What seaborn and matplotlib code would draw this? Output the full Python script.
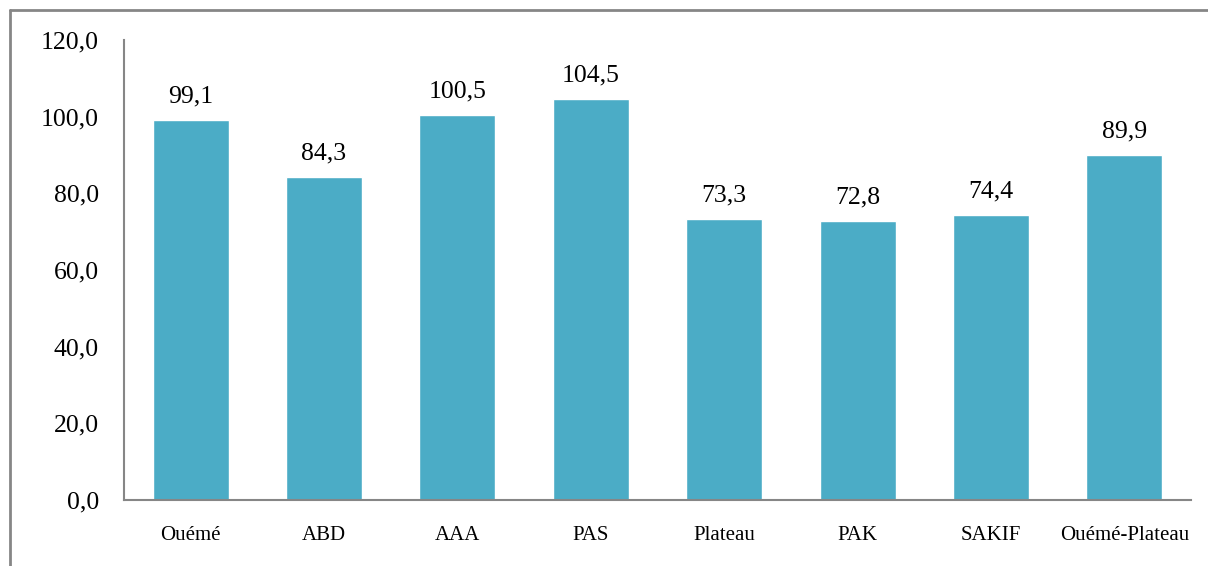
import matplotlib
matplotlib.use("Agg")
import matplotlib.pyplot as plt
import seaborn as sns
from matplotlib.lines import Line2D

categories = ["Ouémé", "ABD", "AAA", "PAS", "Plateau", "PAK", "SAKIF", "Ouémé-Plateau"]
values = [99.1, 84.3, 100.5, 104.5, 73.3, 72.8, 74.4, 89.9]
yticks = [0, 20, 40, 60, 80, 100, 120]

sns.set_style("white")
plt.rcParams["font.family"] = ["Liberation Serif", "DejaVu Serif"]
plt.rcParams["text.color"] = "black"
plt.rcParams["xtick.color"] = "black"
plt.rcParams["ytick.color"] = "black"

fig = plt.figure(figsize=(12.08, 5.66), dpi=100)
ax = fig.add_axes([0.1026, 0.1166, 0.8834, 0.8127])

sns.barplot(x=categories, y=values, color="#4BACC6", saturation=1,
            width=0.57, ax=ax)

ax.set_ylim(0, 120)
ax.set_xlim(-0.5, len(categories) - 0.5)
ax.set_yticks(yticks)
ax.set_yticklabels([f"{v:.1f}".replace(".", ",") for v in yticks], fontsize=18.5)
ax.tick_params(axis="y", length=0, pad=18, labelcolor="black")
ax.tick_params(axis="x", length=0, pad=19, labelsize=15, labelcolor="black")

for i, v in enumerate(values):
    ax.annotate(f"{v:.1f}".replace(".", ","), (i, v), xytext=(0, 9),
                textcoords="offset points", ha="center", va="bottom",
                fontsize=18.5, color="black")

for side in ["top", "right"]:
    ax.spines[side].set_visible(False)
for side in ["left", "bottom"]:
    ax.spines[side].set_color("#868686")
    ax.spines[side].set_linewidth(1.5)

ax.set_xlabel("")
ax.set_ylabel("")

# outer frame (left and top)
fig.add_artist(Line2D([10 / 1208, 10 / 1208], [0, 1 - 10 / 566],
                      transform=fig.transFigure, color="#868686", lw=2))
fig.add_artist(Line2D([10 / 1208, 1], [1 - 10 / 566, 1 - 10 / 566],
                      transform=fig.transFigure, color="#868686", lw=2))

fig.savefig("out.png", dpi=100)
